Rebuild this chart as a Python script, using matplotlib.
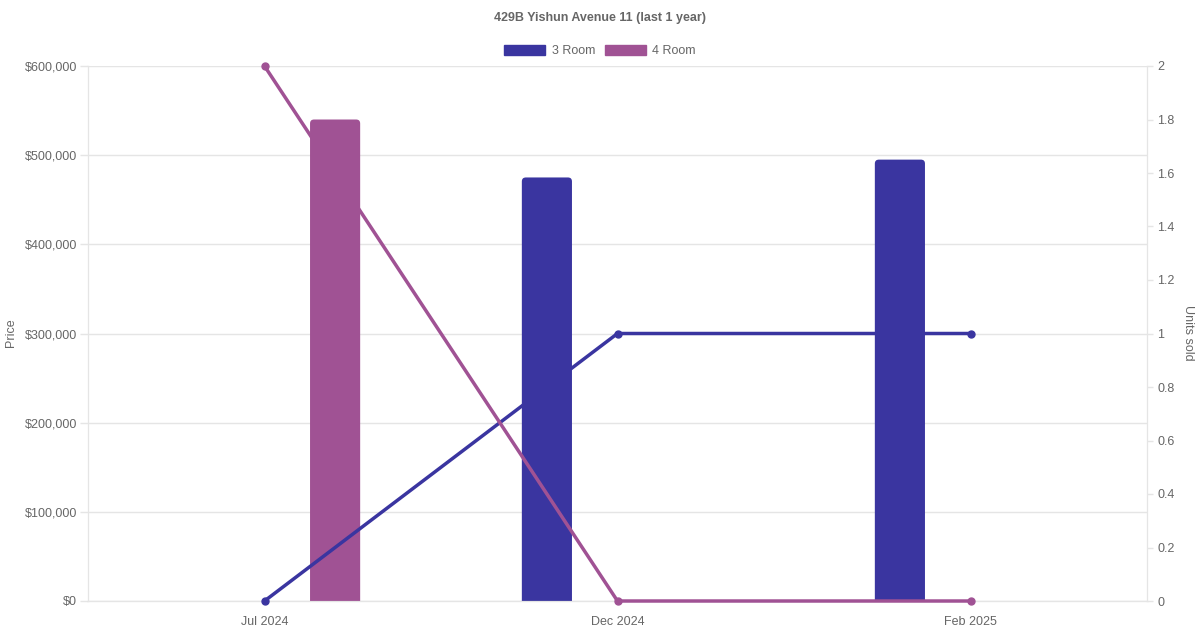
import numpy as np
import matplotlib.pyplot as plt
from matplotlib.patches import Patch, FancyBboxPatch
from matplotlib.ticker import FuncFormatter

plt.rcParams['font.family'] = ['Liberation Sans', 'DejaVu Sans']

months = ['Jul 2024', 'Dec 2024', 'Feb 2025']
price_3room = [np.nan, 475000, 495000]
price_4room = [540000, np.nan, np.nan]
sold_3room = [0, 1, 1]
sold_4room = [2, 0, 0]

c3 = '#3a35a0'
c4 = '#a05294'
txt = '#666666'
grid = '#e5e5e5'

fig = plt.figure(figsize=(12, 6.3), dpi=100)
ax = fig.add_axes([88/1200, 29/630, 1059/1200, 535/630])
ax2 = ax.twinx()

ax.set_xlim(-0.5, 2.5)
ax.set_ylim(0, 600000)

x = np.arange(len(months))
w = 0.142
bars = [ax.bar(x - 0.2, price_3room, width=w, color=c3, zorder=2),
        ax.bar(x + 0.2, price_4room, width=w, color=c4, zorder=2)]

# rounded tops: swap each rect for a rounded box (px -> data scale)
px_x = 3 / 1059
px_y = 600000 / 535
r = 4 * px_x
for bc in bars:
    for rect in bc:
        h = rect.get_height()
        if not np.isfinite(h) or h == 0:
            continue
        rect.set_visible(False)
        ry = 4 * px_y
        box = FancyBboxPatch((rect.get_x(), -ry), rect.get_width(), h + ry,
                             boxstyle=f'round,pad=0,rounding_size={r}',
                             mutation_aspect=px_y / px_x,
                             facecolor=rect.get_facecolor(), edgecolor='none', zorder=2)
        ax.add_patch(box)

ax2.plot(x, sold_3room, color=c3, lw=2.5, marker='o', ms=5, zorder=3, clip_on=False)
ax2.plot(x, sold_4room, color=c4, lw=2.5, marker='o', ms=5, zorder=3, clip_on=False)

ax.set_yticks(np.arange(0, 600001, 100000))
ax.yaxis.set_major_formatter(FuncFormatter(lambda v, p: f'${v:,.0f}'))
ax2.set_ylim(0, 2)
ax2.set_yticks(np.arange(0, 2.01, 0.2))
ax2.yaxis.set_major_formatter(FuncFormatter(lambda v, p: f'{v:g}'))
ax.set_xticks(x)
ax.set_xticklabels(months)

ax.grid(axis='y', color=grid, lw=1, zorder=0)
ax.set_axisbelow(True)
for a in (ax, ax2):
    for s in a.spines.values():
        s.set_color(grid)
    a.spines['top'].set_visible(False)
    a.tick_params(colors=txt, labelsize=9, width=1)
    a.tick_params(axis='both', color=grid)
ax.tick_params(axis='y', length=6, pad=2)
ax2.tick_params(axis='y', length=4.5, pad=3)
ax.tick_params(axis='x', length=0, pad=11)
ax.spines['bottom'].set_color('#cccccc')

fig.text(11/1200, 1 - 333/630, 'Price', rotation=90, ha='center', va='center', color=txt, fontsize=9)
fig.text(1188/1200, 1 - 333/630, 'Units sold', rotation=-90, ha='center', va='center', color=txt, fontsize=9)

fig.text(0.5, 1 - 18/630, '429B Yishun Avenue 11 (last 1 year)', ha='center', va='center',
         color=txt, fontsize=9, fontweight='bold')

handles = [Patch(color=c3, label='3 Room'), Patch(color=c4, label='4 Room')]
fig.legend(handles=handles, loc='center', bbox_to_anchor=(0.5, 1 - 51/630), ncol=2, frameon=False,
           handlelength=3.3, handleheight=0.9, handletextpad=0.5, columnspacing=0.8,
           fontsize=9, labelcolor=txt)

fig.savefig('out.png', dpi=100)
